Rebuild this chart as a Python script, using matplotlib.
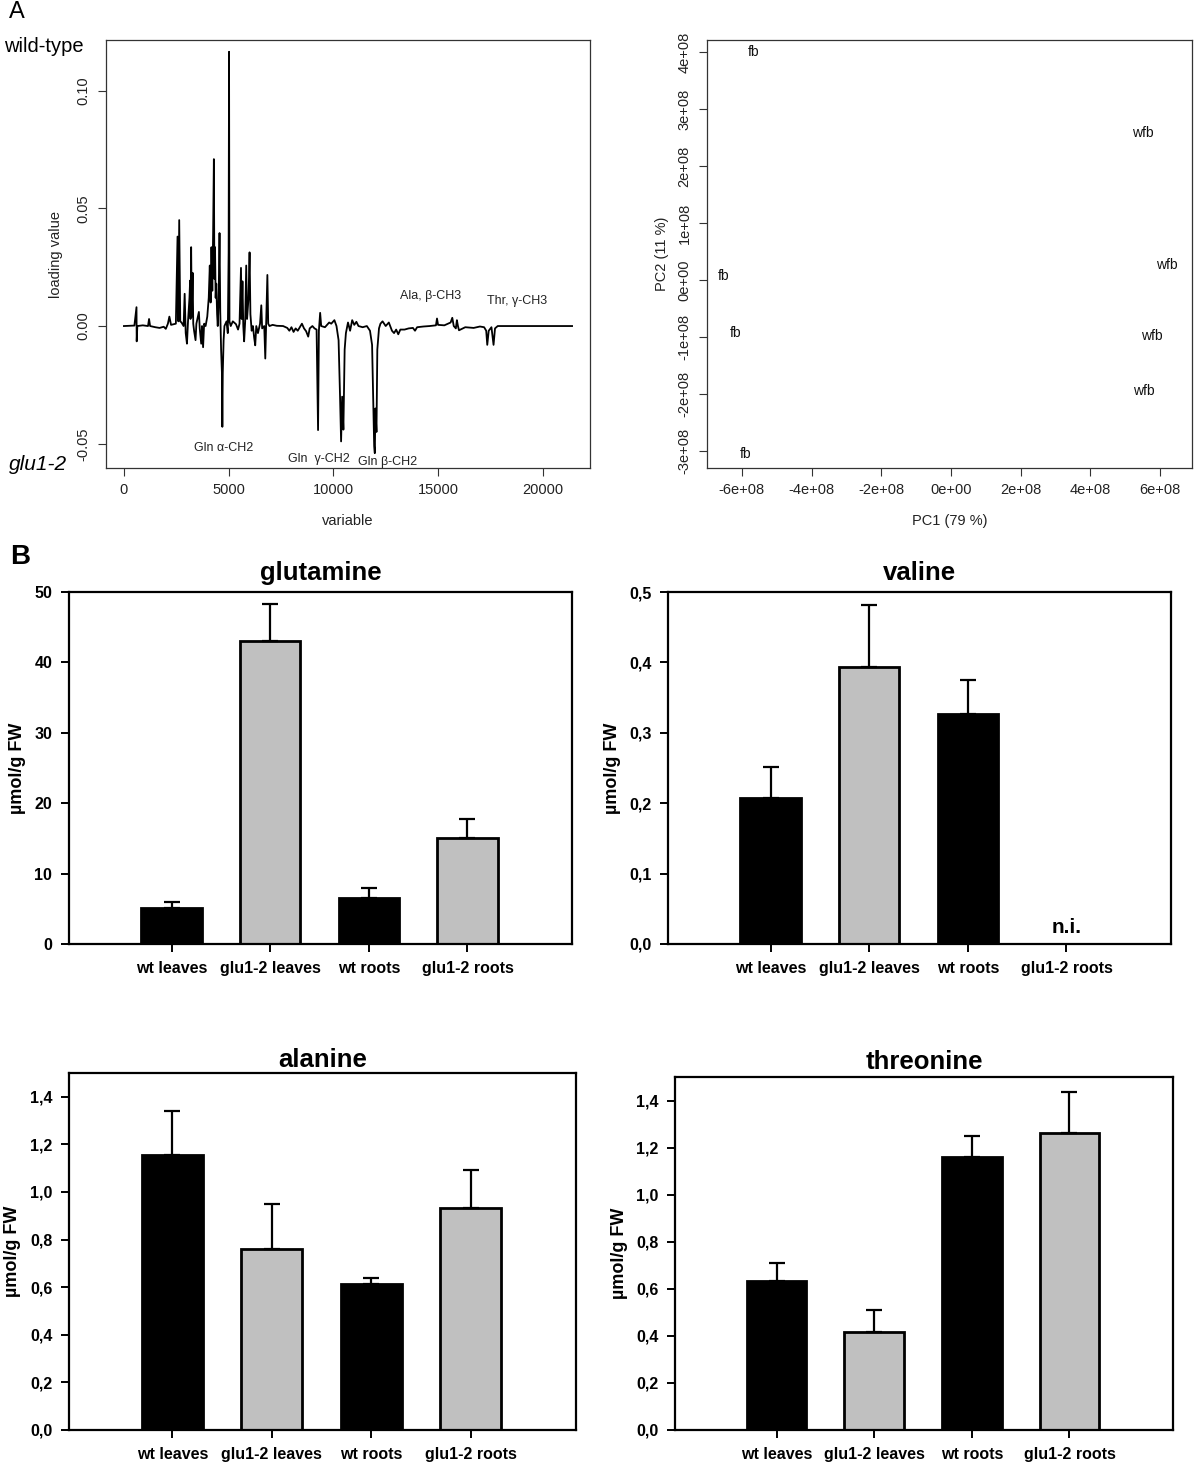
import matplotlib
matplotlib.use('Agg')
import matplotlib.pyplot as plt
import numpy as np

plt.rcParams['font.family'] = ['Liberation Sans', 'DejaVu Sans']

# ---- panel A, left: PC1 loadings (vertices) ----
loading_var = [0, 500, 600, 610, 640, 900, 1150, 1200, 1250, 1500, 1700, 1900, 2000, 2100,
               2170, 2250, 2480, 2560, 2600, 2640, 2690, 2750, 2850, 2900, 2950, 3010, 3060,
               3130, 3160, 3180, 3210, 3240, 3280, 3310, 3350, 3420, 3460, 3580, 3620, 3690,
               3730, 3780, 3830, 3900, 3980, 4050, 4100, 4140, 4180, 4220, 4260, 4295, 4320,
               4350, 4380, 4410, 4450, 4480, 4520, 4565, 4600, 4640, 4680, 4700, 4720, 4760,
               4800, 4900, 4960, 5000, 5020, 5040, 5100, 5200, 5350, 5450, 5520, 5590, 5620,
               5660, 5700, 5740, 5790, 5840, 5880, 5950, 6000, 6040, 6100, 6160, 6220, 6270,
               6320, 6400, 6500, 6560, 6600, 6700, 6750, 6790, 6850, 6890, 6950, 7100, 7300,
               7600, 7800, 7900, 8000, 8100, 8200, 8300, 8400, 8500, 8600, 8700, 8800, 8870,
               9000, 9100, 9200, 9270, 9310, 9370, 9420, 9600, 9800, 9900, 10050, 10150, 10250,
               10320, 10370, 10420, 10480, 10540, 10600, 10700, 10800, 10900, 11000, 11100,
               11200, 11400, 11600, 11750, 11850, 11900, 11950, 11980, 12010, 12060, 12100,
               12180, 12250, 12350, 12500, 12650, 12800, 12900, 13000, 13100, 13200, 13400,
               13600, 13800, 13900, 14000, 14300, 14600, 14900, 14950, 15000, 15300, 15600,
               15680, 15750, 15850, 15900, 15950, 16000, 16300, 16700, 17000, 17200, 17300,
               17350, 17420, 17550, 17650, 17720, 17850, 18500, 21400]
loading_val = [0, 0.0002, 0.008, -0.0065, 0, 0.0003, 0, 0.003, 0, -0.0005, -0.0008, -0.0003,
               -0.0012, 0.001, 0.004, 0.0005, 0.001, 0.038, 0.002, 0.045, 0.002, 0.0015, 0,
               0.0137, -0.003, -0.0075, 0.002, 0.012, 0.0193, 0.003, 0.0335, 0.004, 0.0226,
               0.001, -0.002, -0.006, 0.001, 0.006, -0.001, -0.0075, 0, -0.009, 0.001, 0.0,
               0.004, 0.012, 0.0257, 0.01, 0.0335, 0.015, 0.04, 0.0709, 0.02, 0.0335, 0.012,
               0.018, 0.005, 0.0, 0.01, 0.0395, 0.006, -0.01, -0.02, -0.0428, -0.02, -0.006,
               0.0, 0.002, -0.003, 0.031, 0.1165, 0.002, 0.0, 0.002, 0.0008, -0.0015, 0.001,
               0.0247, 0.003, 0.019, 0.0, -0.0065, 0.002, 0.0257, 0.003, 0.012, 0.0313, 0.005,
               -0.002, 0.0, -0.005, -0.0082, 0.0, -0.003, 0.001, 0.0088, -0.001, 0.0, -0.0138,
               0.0, 0.0217, 0.001, 0.0, 0.0005, 0.0001, 0.0, -0.0008, -0.002, -0.0005, -0.0025,
               -0.001, -0.002, -0.0005, 0.001, -0.001, -0.0022, -0.0045, -0.001, 0.0, -0.001,
               -0.0015, -0.0442, -0.002, 0.0056, 0.0, -0.0005, 0.0015, 0.001, 0.0025, 0.0,
               -0.006, -0.03, -0.049, -0.03, -0.044, -0.01, -0.003, 0.0015, -0.002, 0.0025,
               0.0005, 0.0018, 0.0, -0.0005, 0.0, -0.002, -0.008, -0.03, -0.051, -0.054, -0.035,
               -0.045, -0.01, -0.001, 0.001, 0.002, 0.0, 0.0015, -0.002, -0.003, -0.0015,
               -0.0035, -0.0015, -0.0015, -0.001, -0.0008, -0.002, -0.0005, -0.0002, 0.0,
               0.0003, 0.0032, 0.0005, 0.0003, 0.0015, 0.0035, 0.0, -0.001, 0.0025, 0.0,
               -0.0018, -0.0005, -0.0008, -0.0002, -0.0005, -0.002, -0.008, -0.002, -0.0005,
               -0.008, -0.001, 0.0, 0.0, 0.0]

peak_names = ['Gln α-CH2', 'Gln  γ-CH2', 'Gln β-CH2', 'Ala, β-CH3', 'Thr, γ-CH3']
peak_x = [4770, 9310, 12570, 14650, 18770]
peak_y = [-0.0516, -0.0563, -0.0577, 0.0128, 0.0107]

# ---- panel A, right: PCA scores ----
score_labels = ['fb', 'fb', 'fb', 'fb', 'wfb', 'wfb', 'wfb', 'wfb']
pc1 = [-5.65e8, -6.51e8, -6.17e8, -5.88e8, 5.51e8, 6.20e8, 5.77e8, 5.54e8]
pc2 = [4.00e8, 0.07e8, -0.93e8, -3.05e8, 2.58e8, 0.26e8, -0.98e8, -1.95e8]

# ---- panel B: amino acid contents ----
groups = ['wt leaves', 'glu1-2 leaves', 'wt roots', 'glu1-2 roots']
bar_colors = ['black', '#c0c0c0', 'black', '#c0c0c0']
glutamine = [5.1, 43.0, 6.5, 15.1]
glutamine_err = [0.9, 5.3, 1.5, 2.7]
valine = [0.207, 0.393, 0.327, np.nan]
valine_err = [0.045, 0.089, 0.048, np.nan]
alanine = [1.155, 0.76, 0.615, 0.932]
alanine_err = [0.185, 0.19, 0.025, 0.16]
threonine = [0.635, 0.418, 1.158, 1.263]
threonine_err = [0.075, 0.093, 0.092, 0.172]

W, H = 1200, 1476
fig = plt.figure(figsize=(W / 100, H / 100), dpi=100)


def box(l, r, t, b):
    return [l / W, 1 - b / H, (r - l) / W, (b - t) / H]


def r_style(ax):
    for s in ax.spines.values():
        s.set_linewidth(0.9)
        s.set_color('#333333')
    ax.tick_params(direction='out', length=6, width=0.8, color='#333333',
                   labelsize=10.5, labelcolor='#222222', pad=5)
    for lab in ax.get_yticklabels():
        lab.set_rotation(90)
        lab.set_va('center')


# loadings
ax = fig.add_axes(box(106, 590, 40, 468))
ax.plot(loading_var, loading_val, color='black', lw=1.3)
ax.set_xlim(-856, 22256)
ax.set_ylim(-0.0603, 0.1215)
ax.set_xticks([0, 5000, 10000, 15000, 20000])
ax.set_yticks([-0.05, 0.0, 0.05, 0.10])
ax.set_yticklabels(['-0.05', '0.00', '0.05', '0.10'])
r_style(ax)
ax.set_xlabel('variable', fontsize=10.5, color='#222222', labelpad=12)
ax.set_ylabel('loading value', fontsize=10.5, color='#222222', labelpad=10)
for name, x, y in zip(peak_names, peak_x, peak_y):
    ax.text(x, y, name, fontsize=9, ha='center', va='center', color='#222222')

# scores
ax = fig.add_axes(box(707, 1192, 40, 468))
for lab, x, y in zip(score_labels, pc1, pc2):
    ax.text(x, y, lab, fontsize=10, ha='center', va='center', color='#111111')
ax.set_xlim(-7.0e8, 6.92e8)
ax.set_ylim(-3.3e8, 4.21e8)
xt = np.arange(-6, 7, 2) * 1e8
yt = np.arange(-3, 5, 1) * 1e8
ax.set_xticks(xt)
ax.set_xticklabels(['0e+00' if v == 0 else '%de+08' % round(v / 1e8) for v in xt])
ax.set_yticks(yt)
ax.set_yticklabels(['0e+00' if v == 0 else '%de+08' % round(v / 1e8) for v in yt])
r_style(ax)
ax.set_xlabel('PC1 (79 %)', fontsize=10.5, color='#222222', labelpad=12)
ax.set_ylabel('PC2 (11 %)', fontsize=10.5, color='#222222', labelpad=6)

fig.text(9 / W, 1 - 12 / H, 'A', fontsize=17, va='center', ha='left')
fig.text(4 / W, 1 - 47 / H, 'wild-type', fontsize=14.5, va='center', ha='left')
fig.text(9 / W, 1 - 465 / H, 'glu1-2', fontsize=15, style='italic', va='center', ha='left')
fig.text(10 / W, 1 - 557 / H, 'B', fontsize=20, fontweight='bold', va='center', ha='left')


def bar_panel(rect, title, vals, errs, ylim, yticks, ylabels, tpad=9):
    ax = fig.add_axes(rect)
    x = np.arange(len(groups))
    v = np.nan_to_num(vals)
    ax.bar(x, v, width=0.61, color=bar_colors, edgecolor='black', linewidth=2, zorder=2)
    e = np.array(errs, dtype=float)
    ok = ~np.isnan(e)
    ax.errorbar(x[ok], np.array(vals)[ok], yerr=[np.zeros(ok.sum()), e[ok]], fmt='none',
                ecolor='black', elinewidth=1.6, capsize=6, capthick=1.6, zorder=3)
    ax.set_xlim(-1.04, 4.06)
    ax.set_ylim(*ylim)
    ax.set_yticks(yticks)
    ax.set_yticklabels(ylabels)
    ax.set_xticks(x)
    ax.set_xticklabels(groups)
    for s in ax.spines.values():
        s.set_linewidth(1.6)
    ax.tick_params(direction='out', length=6, width=1.4, labelsize=11.5, pad=6)
    for lab in ax.get_xticklabels() + ax.get_yticklabels():
        lab.set_fontweight('bold')
    ax.set_title(title, fontsize=18.5, fontweight='bold', pad=tpad)
    ax.set_ylabel('µmol/g FW', fontsize=13, fontweight='bold', labelpad=6)
    return ax


bar_panel(box(69, 572, 592, 944), 'glutamine', glutamine, glutamine_err,
          (0, 50), [0, 10, 20, 30, 40, 50], ['0', '10', '20', '30', '40', '50'])
axv = bar_panel(box(668, 1171, 592, 944), 'valine', valine, valine_err,
                (0, 0.5), [0, 0.1, 0.2, 0.3, 0.4, 0.5], ['0,0', '0,1', '0,2', '0,3', '0,4', '0,5'])
axv.text(3, 0.015, 'n.i.', fontsize=15, fontweight='bold', ha='center', va='baseline')
ticks14 = [0, 0.2, 0.4, 0.6, 0.8, 1.0, 1.2, 1.4]
labs14 = ['0,0', '0,2', '0,4', '0,6', '0,8', '1,0', '1,2', '1,4']
bar_panel(box(69, 576, 1073, 1430), 'alanine', alanine, alanine_err, (0, 1.5), ticks14, labs14,
          tpad=4)
bar_panel(box(675, 1173, 1077, 1430), 'threonine', threonine, threonine_err, (0, 1.5),
          ticks14, labs14, tpad=6)

fig.savefig('out.png', dpi=100, facecolor='white')
